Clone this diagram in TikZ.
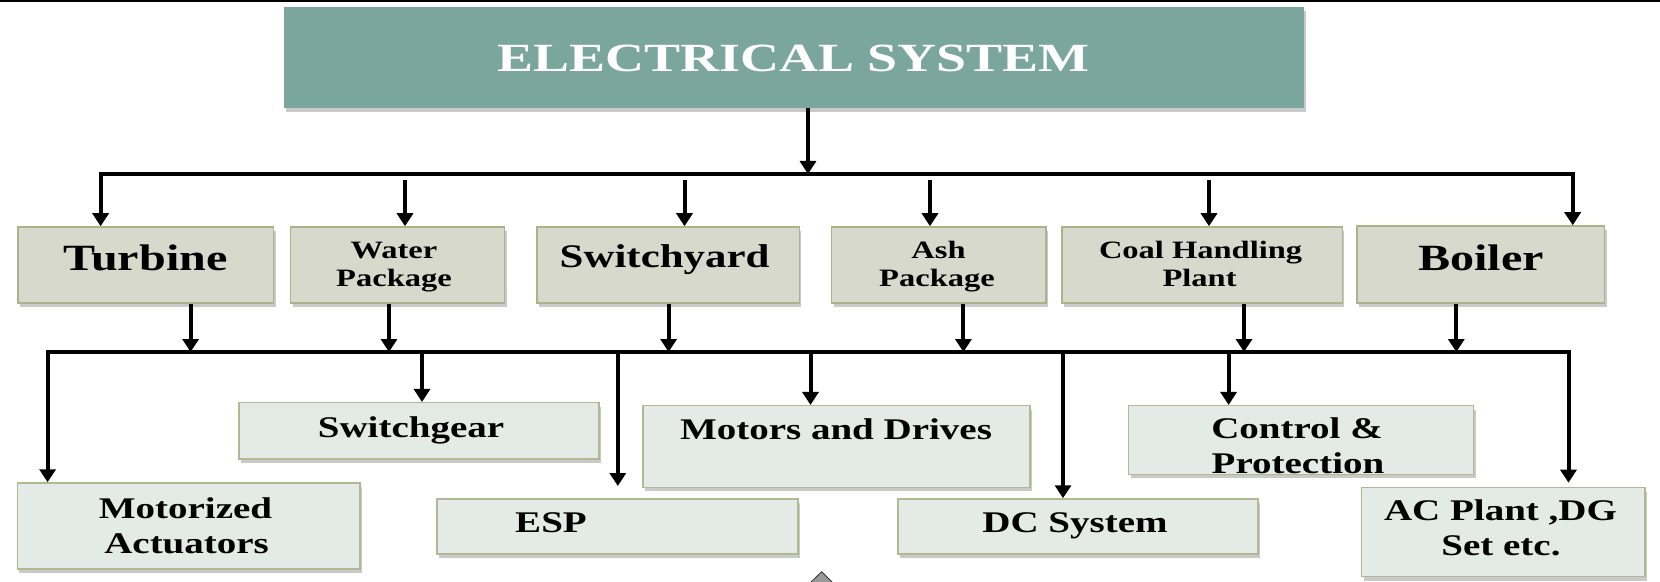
\documentclass[tikz,border=0pt]{standalone}
\usepackage{fontspec}
\setmainfont{Liberation Serif}
\newfontfamily\lblfont[FakeStretch=1.3]{Liberation Serif}
\newfontfamily\ttlfont[FakeStretch=1.35]{Liberation Serif}
\usetikzlibrary{arrows.meta,shadows}
\definecolor{ttlfill}{RGB}{123,166,157}
\definecolor{onefill}{RGB}{216,217,205}
\definecolor{oneline}{RGB}{172,178,140}
\definecolor{twofill}{RGB}{228,234,230}
\definecolor{twoline}{RGB}{180,184,146}
\newcommand\myfontBig{\lblfont\bfseries\fontsize{37bp}{37bp}\selectfont}
\newcommand\myfontMid{\lblfont\bfseries\fontsize{33bp}{33bp}\selectfont}
\newcommand\myfontSmall{\lblfont\bfseries\fontsize{25bp}{25bp}\selectfont}
\newcommand\myfontTwo{\lblfont\bfseries\fontsize{30bp}{30bp}\selectfont}
\begin{document}
\begin{tikzpicture}[x=1bp,y=-1bp,
  boxshadow/.style={drop shadow={shadow xshift=2bp,shadow yshift=-4bp,opacity=0.35,fill=black!60}},
  ttlbox/.style={rectangle,fill=ttlfill,draw=none,boxshadow,inner sep=0},
  lone/.style={rectangle,fill=onefill,draw=oneline,line width=1.5bp,boxshadow,inner sep=0},
  ltwo/.style={rectangle,fill=twofill,draw=twoline,line width=1.5bp,boxshadow,inner sep=0},
  txt/.style={anchor=base,inner sep=0,text=black},
  conn/.style={line width=4bp,black},
  arr/.style={conn,-{Triangle[length=13bp,width=16bp]}}]
\useasboundingbox (0,0) rectangle (1660,582);
\fill[white] (0,0) rectangle (1660,582);
\fill[black] (0,0) rectangle (1660,2.5);

% title
\node[ttlbox,minimum width=1020bp,minimum height=101bp] (ttl) at (794,57.5) {};
\node[txt,text=white] (ttltxt) at (793.5,71.7) {\ttlfont\bfseries\fontsize{40bp}{40bp}\selectfont ELECTRICAL SYSTEM};

% level 1 boxes
\node[lone,minimum width=255.5bp,minimum height=76bp] (turb) at (145.75,265) {};
\node[lone,minimum width=214bp,minimum height=76bp] (water) at (397.5,265) {};
\node[lone,minimum width=262.6bp,minimum height=76bp] (swy) at (668.1,265) {};
\node[lone,minimum width=214.4bp,minimum height=76bp] (ash) at (938.8,265) {};
\node[lone,minimum width=280.5bp,minimum height=76bp] (coal) at (1202.2,265) {};
\node[lone,minimum width=247.5bp,minimum height=77bp] (boil) at (1480.8,264.5) {};

\node[txt] (turbt) at (145.5,270) {\myfontBig Turbine};
\node[txt] (watert1) at (394,258) {\myfontSmall Water};
\node[txt] (watert2) at (394,286) {\myfontSmall Package};
\node[txt] (swyt) at (664.6,267) {\myfontMid Switchyard};
\node[txt] (asht1) at (938.5,258) {\myfontSmall Ash};
\node[txt] (asht2) at (937,286) {\myfontSmall Package};
\node[txt] (coalt1) at (1200.6,258) {\myfontSmall Coal Handling};
\node[txt] (coalt2) at (1199.6,286) {\myfontSmall Plant};
\node[txt] (boilt) at (1481,270) {\myfontBig Boiler};

% level 2 boxes
\node[ltwo,minimum width=342.5bp,minimum height=86bp] (mot) at (188.75,526) {};
\node[ltwo,minimum width=360bp,minimum height=56.3bp] (swg) at (418.75,430.85) {};
\node[ltwo,minimum width=360.8bp,minimum height=55bp] (esp) at (617.4,526.5) {};
\node[ltwo,minimum width=387bp,minimum height=81.6bp] (mtr) at (836.5,446.5) {};
\node[ltwo,minimum width=360bp,minimum height=55bp] (dcs) at (1077.75,526.5) {};
\node[ltwo,minimum width=345bp,minimum height=68.6bp] (ctl) at (1301.15,440) {};
\node[ltwo,minimum width=283.7bp,minimum height=89bp] (acp) at (1503.35,532.2) {};

\node[txt] (mott1) at (185.5,518.3) {\myfontTwo Motorized};
\node[txt] (mott2) at (186.6,553.3) {\myfontTwo Actuators};
\node[txt] (swgt) at (411,437.3) {\myfontTwo Switchgear};
\node[txt] (espt) at (551,532.7) {\myfontTwo ESP};
\node[txt] (mtrt) at (836,439) {\myfontTwo Motors and Drives};
\node[txt] (dcst) at (1075,532.7) {\myfontTwo DC System};
\node[txt] (ctlt1) at (1297,438.3) {\myfontTwo Control \&};
\node[txt] (ctlt2) at (1298,473.3) {\myfontTwo Protection};
\node[txt] (acpt1) at (1500.5,520.7) {\myfontTwo AC Plant ,DG};
\node[txt] (acpt2) at (1501,555.7) {\myfontTwo Set etc.};

% top connectors
\coordinate (topbus) at (808,174);
\coordinate (busL) at (100.6,174);
\coordinate (busR) at (1572.7,174);
\coordinate (wa) at (405,180);
\coordinate (sw) at (684.5,180);
\coordinate (as) at (930,180);
\coordinate (co) at (1209,180);
\draw[arr] (ttl.south -| topbus) -- (topbus);
\draw[arr] (topbus) -- (busL) -- (busL |- turb.north);
\draw[arr] (topbus) -- (busR) -- (busR |- boil.north);
\draw[arr] (wa) -- (wa |- water.north);
\draw[arr] (sw) -- (sw |- swy.north);
\draw[arr] (as) -- (as |- ash.north);
\draw[arr] (co) -- (co |- coal.north);

% second bus
\coordinate (bL) at (47.6,352);
\coordinate (bR) at (1568.5,352);
\coordinate (b1) at (190.6,352);
\coordinate (b2) at (389,352);
\coordinate (b3) at (668.6,352);
\coordinate (b4) at (963.4,352);
\coordinate (b5) at (1244,352);
\coordinate (b6) at (1456.3,352);
\coordinate (d2) at (422,352);
\coordinate (d3) at (617.8,352);
\coordinate (d4) at (810.5,352);
\coordinate (d5) at (1063,352);
\coordinate (d6) at (1228.6,352);
\coordinate (espin) at (617.8,486);
\coordinate (acin) at (1568.5,482.7);
\draw[arr] (bR) -- (bL) -- (bL |- mot.north);
\draw[arr] (bL) -- (bR) -- (acin);
\draw[arr] (turb.south -| b1) -- (b1);
\draw[arr] (water.south -| b2) -- (b2);
\draw[arr] (swy.south -| b3) -- (b3);
\draw[arr] (ash.south -| b4) -- (b4);
\draw[arr] (coal.south -| b5) -- (b5);
\draw[arr] (boil.south -| b6) -- (b6);
\draw[arr] (d2) -- (d2 |- swg.north);
\draw[arr] (d3) -- (espin);
\draw[arr] (d4) -- (d4 |- mtr.north);
\draw[arr] (d5) -- (d5 |- dcs.north);
\draw[arr] (d6) -- (d6 |- ctl.north);

% small marker at the bottom edge
\draw[fill=black!40,draw=black!80,line width=0.8bp] (811,582) -- (821.7,571.7) -- (832,582);
\end{tikzpicture}
\end{document}
